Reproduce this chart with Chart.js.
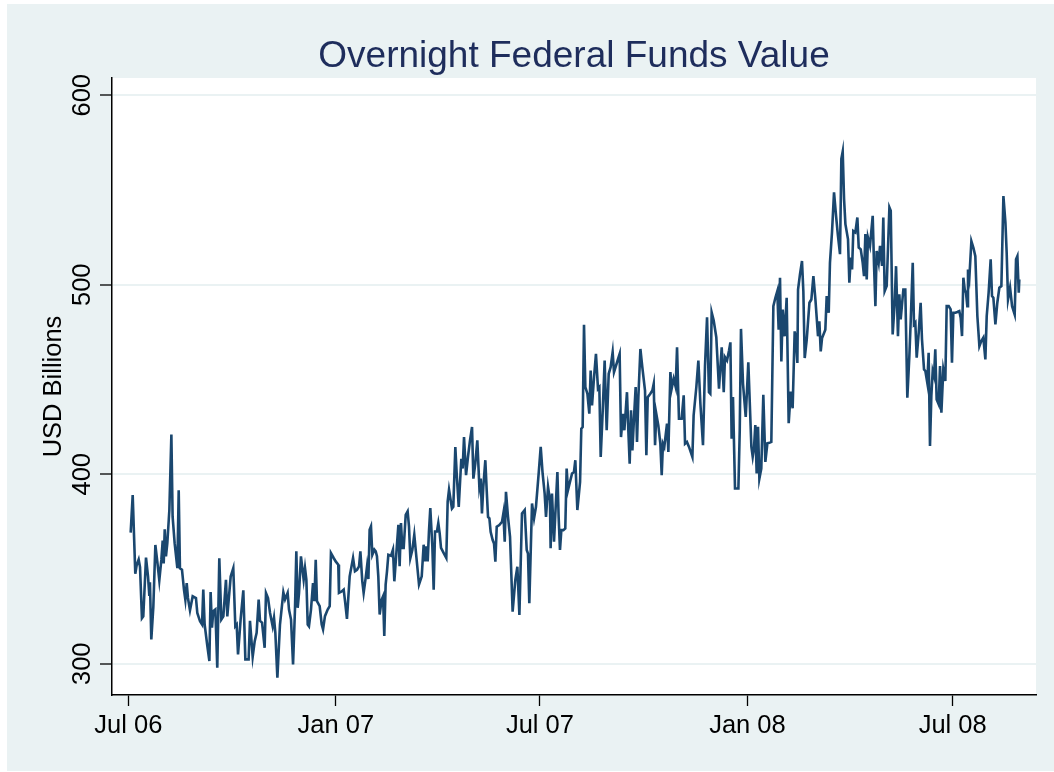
<!DOCTYPE html>
<html>
<head>
<meta charset="utf-8">
<title>Overnight Federal Funds Value</title>
<script src="https://cdn.jsdelivr.net/npm/chart.js@4/dist/chart.umd.min.js"></script>
<style>
  html, body { margin: 0; padding: 0; background: #ffffff; }
  canvas { display: block; }
</style>
</head>
<body>
<canvas id="c" width="1054" height="772"></canvas>
<script>
// ---- Data: [days since 1 Jul 2006, value in USD billions] ----
const chartTitle = 'Overnight Federal Funds Value';
const yAxisTitle = 'USD Billions';

const obsJul06toNov06 = [
  [2.1,369.2],[3.9,389],[6.2,347.5],[7.4,352],[9.2,355],[10.4,351],[12.1,324],[13.3,325],[15.7,356],[17.5,346],
  [18.6,336.4],[19.2,343],[20.4,312.8],[22.2,330],[24.0,362.7],[25.7,354],[27.5,344],[29.3,354.8],[30.5,365],[31.4,352.9],
  [32.3,371],[33.4,356.6],[34.6,363.6],[36.4,381],[38.2,421],[39.3,377.6],[41.1,363.6],[43.5,350.4],[44.7,391.6],[45.8,350.4],
  [47.6,349.6],[49.4,339],[50.6,333.8],[51.8,342.6],[52.9,334.7],[54.7,328.2],[57.1,335.6],[60.0,334.7],[61.2,326.8],[63.6,322.4],
  [65.4,320.7],[66.5,339.1],[67.7,320.7],[70.1,309.3],[71.9,301.4],[73.0,337.8],[74.2,319],[75.4,327.7],[77.2,328.6],[78.9,297.9],
  [80.7,355.7],[82.5,323.3],[84.3,325],[86.6,344.3],[87.8,325],[90.8,346],[93.1,350.4],[94.9,319.8],[96.1,320.7],[97.3,304.9],
  [99.6,323.3],[102.0,338.7],[103.8,302.3],[106.7,302.3],[107.9,322.6],[110.3,303.7],[112.1,311.9],[113.8,316.3],[115.6,333.8],[116.8,322.6],
  [118.6,321.7],[120.9,308.4],[122.1,337.3],[123.9,334.7],[125.7,326.8],[128.0,319.8],[129.2,324.2],[130.4,316.3],[132.2,292.6],[134.5,320.7],
  [137.5,337.7]
];
const obsNov06toApr07 = [
  [139.0,333.9],[141.3,337.4],[142.5,328.6],[144.3,323.3],[146.1,299.6],[147.8,328.6],[149.0,359.3],[150.2,329.5],[151.4,337.4],[153.1,356.7],
  [155.5,344.4],[156.7,350.5],[157.9,344.4],[159.1,320.7],[160.2,319.8],[162.0,328.6],[163.8,342.6],[165.0,333],[166.2,354.9],[167.3,333],
  [169.7,330.4],[171.5,320.7],[172.7,318.1],[174.4,325.1],[176.8,328.6],[178.6,330.4],[179.7,358.4],[182.1,355.8],[183.9,354],[186.2,352.3],
  [186.8,337.4],[189.2,338.1],[191.0,339.1],[192.2,333],[193.9,323.7],[196.3,346.1],[199.3,355.8],[201.0,348.8],[202.8,349.6],[204.6,351.4],
  [205.8,359.3],[207.5,343.5],[208.7,337.4],[210.5,345.3],[211.7,351.4],[212.9,344.7],[214.0,370.7],[215.2,372.5],[216.4,357.5],[218.2,360.2],
  [219.4,359.3],[220.5,356.7],[221.7,346.1],[222.9,326],[224.7,333.9],[225.9,335.6],[227.0,314.6],[228.2,341.8],[229.4,348.8],[230.6,357.5],
  [233.0,357],[234.7,360.2],[235.9,343.5],[237.7,358.4],[239.5,373.3],[240.6,351.4],[241.8,374.2],[243.0,361.1],[244.2,361.1],[246.0,378.6],
  [247.7,380.4],[248.9,372.5],[250.1,355.8],[251.9,360.2],[253.6,368.1],[255.4,356.7],[257.8,341.8],[260.2,346.1],[261.9,362.8],[263.1,354],
  [264.3,362],[265.5,354],[266.6,369.8],[267.8,382.1],[269.6,362],[270.8,339.1],[272.0,369.8],[273.7,369.8],[274.9,374.2],[276.1,368.9],
  [277.3,361.1],[279.7,358.4],[282.0,355.8],[283.2,385.6],[284.4,391.8]
];
const obsApr07toSep07 = [
  [287.0,381.9],[288.2,382.8],[290.0,414.4],[291.2,400.4],[293.0,382.8],[295.3,408.2],[296.5,403],[297.7,419.6],[299.5,399.5],[301.2,409.1],
  [303.0,417.9],[304.8,424.9],[306.0,397.7],[307.7,405.6],[309.5,417.9],[311.3,393.3],[312.5,397.7],[313.6,379.3],[314.8,393.3],[316.6,407.4],
  [317.8,391.6],[319.0,377.5],[320.2,376.7],[321.3,369.6],[323.1,365.3],[324.3,363.5],[325.5,353.9],[326.7,372.3],[329.0,373.2],[331.4,374.9],
  [332.6,379.3],[333.8,364.4],[334.9,390.7],[336.7,377.5],[338.5,367],[340.8,327.5],[343.2,344.2],[345.0,351.2],[346.8,325.8],[349.1,379.3],
  [351.5,381.1],[353.3,360],[354.4,358.2],[355.6,331.9],[358.0,384.6],[359.8,376.7],[361.5,382.8],[363.9,400.4],[365.7,414.4],[367.4,400.4],
  [369.2,389.8],[370.4,377.5],[372.2,393.3],[373.9,386.3],[374.5,360.9],[375.7,389.8],[377.5,364.4],[378.7,379.3],[380.5,401.2],[381.6,377.5],
  [382.8,360],[384.0,370.5],[385.8,370.5],[387.5,371.4],[388.7,403],[389.9,391.6],[391.7,396],[393.5,400.4],[395.2,401.2],[396.4,407.4],
  [398.2,381.1],[400.6,396],[401.7,424],[402.9,424.9],[404.1,478.9],[405.3,446],[407.1,442.5],[408.8,432],[410.0,454.7],[411.2,436.3],
  [413.0,451.2],[414.7,463.5],[416.5,445.1],[417.7,446],[418.9,409.1],[420.7,433.7],[422.4,460],[424.2,423.2],[426.0,453],[427.7,456.5],
  [429.5,464.4],[430.7,453.9]
];
const obsSep07toJan08 = [
  [433.4,459.1],[435.7,463.5],[436.9,419.6],[438.7,431.9],[439.9,423.2],[442.2,443.3],[443.4,423.2],[444.6,405.6],[445.8,433.7],[447.0,412.6],
  [448.7,432.8],[449.9,446],[451.1,417],[452.3,440.7],[454.1,466.1],[455.8,456.5],[458.2,444.2],[459.4,410],[460.6,440.7],[462.9,442.5],
  [464.7,444.2],[465.9,447.7],[467.1,415.3],[468.2,431.9],[470.0,425.8],[471.8,416.1],[473.0,399.5],[474.1,416.1],[475.3,414.4],[477.7,426.7],
  [478.9,411.8],[480.7,453.9],[481.8,445.1],[483.6,450.4],[485.4,446],[486.6,467],[488.3,429.3],[490.7,429.3],[492.5,441.6],[493.7,416.1],
  [495.4,417],[497.2,414.4],[500.2,409.1],[501.3,431],[503.7,446],[505.5,460],[507.3,437.2],[509.6,415.3],[511.4,457.4],[513.2,482.8],
  [514.9,443.3],[516.1,442.5],[517.3,485.4],[519.1,481.1],[521.4,472.3],[523.8,445.1],[526.2,467],[528.0,443.3],[529.1,461.8],[530.9,460],
  [532.7,465.3],[533.9,469.6],[535.0,418.8],[536.2,440.7],[538.0,392.5],[541.0,392.5],[542.2,423.2],[543.3,476.7],[545.1,447.7],[547.5,430.2],
  [549.8,459.1]
];
const obsJan08toMay08 = [
  [552.5,414.5],[553.7,409.2],[554.8,413.6],[556.0,426],[557.2,400.4],[558.4,425.1],[559.6,397.7],[561.3,403],[563.1,441.9],[564.9,406.5],
  [566.7,416.3],[568.4,416.6],[570.2,417.1],[572.0,488.7],[573.8,493.1],[575.5,496.6],[576.7,476.3],[577.9,503.7],[579.1,459.5],[580.3,486.9],
  [582.0,472.8],[583.8,493.1],[585.6,426.9],[587.4,443.6],[589.1,434.8],[590.9,475.4],[592.1,471],[593.3,458.7],[593.9,497.5],[595.6,505.5],
  [597.4,512.5],[598.6,496.6],[599.8,461.3],[601.6,471],[604.0,490.5],[605.7,492.2],[607.5,504.6],[609.3,492.2],[611.6,472.8],[612.8,480.7],
  [614.0,464.8],[615.2,471.9],[618.1,476.3],[619.3,494],[621.1,485.2],[622.2,511.7],[624.0,527.6],[625.8,548.8],[627.6,536.4],[629.3,525.8],
  [631.1,516.1],[632.3,566.4],[633.5,570.3],[634.7,545.2],[635.9,532],[638.2,524],[639.4,501.1],[640.6,514.3],[641.8,508.1],[642.9,528.4],
  [644.7,527.6],[646.5,535.5],[647.7,519.6],[649.5,518.7],[651.2,511.7],[652.4,504.6],[653.6,526.7],[654.8,502.8],[655.9,524.9],[657.7,520.5],
  [660.1,536.4],[661.3,509.9],[662.5,488.7],[663.6,517.8],[665.4,511.7],[666.6,520.5],[668.4,509.9],[669.5,535.5],[670.7,496.6],[672.5,499.3],
  [674.9,540.8],[676.1,539]
];
const obsMay08toAug08 = [
  [677.8,473.8],[679.6,490.5],[680.8,509.8],[682.5,472.9],[683.7,494.9],[684.9,481.7],[686.1,489.6],[687.3,497.5],[689.0,497.5],[690.8,440.4],
  [692.6,462.4],[693.8,480.8],[695.6,511.6],[696.7,479.1],[697.9,480],[699.1,461.5],[700.9,474.7],[702.6,490.5],[703.8,471.2],[705.6,455.3],
  [706.8,454.5],[708.5,448.3],[709.7,464.1],[710.9,414.9],[712.1,441.3],[713.3,454.5],[714.5,451.8],[715.6,465.9],[716.8,439.5],[718.6,436.9],
  [719.8,457.1],[721.0,432.5],[722.7,455.3],[724.5,449.2],[725.7,488.7],[727.5,488.7],[729.2,487],[730.4,458.9],[731.6,485.2],[733.4,485.2],
  [735.2,485.6],[736.9,486.1],[738.1,482.6],[739.3,472.9],[740.5,503.7],[741.7,497.5],[742.8,495.8],[744.0,488.7],[744.6,508.1],[745.8,503.7],
  [747.6,523],[749.4,519.5],[751.1,515.1],[752.9,483.5],[754.7,467.6],[756.4,470.3],[758.2,472.1],[760.0,460.6],[761.2,483.5],[762.9,495.8],
  [764.7,513.4],[765.9,494],[767.1,493.1],[768.9,479.1],[770.6,490.5],[772.4,498.4],[774.2,499.3],[776.0,546.8],[777.8,532.7],[778.9,516.9],
  [780.1,492.3],[781.9,498.4],[783.7,488.7],[786.0,484.3],[787.2,513.4],[788.4,515.1],[789.6,495.8],[790.1,502.8]
];

const xTickDays   = [0, 184, 365, 549, 731];
const xTickLabels = ['Jul 06', 'Jan 07', 'Jul 07', 'Jan 08', 'Jul 08'];
const yTickValues = [300, 400, 500, 600];

// ---- Build series ----
const series = [].concat(obsJul06toNov06, obsNov06toApr07, obsApr07toSep07,
                         obsSep07toJan08, obsJan08toMay08, obsMay08toAug08)
  .map(([d, v]) => ({ x: d, y: v }));

const FONT = '"Liberation Sans", Arial, Helvetica, sans-serif';
const BG = '#EAF2F3';
const LINE = '#1A476F';
const TITLE_COLOR = '#1E2D5C';

const decorPlugin = {
  id: 'decor',
  beforeDraw(chart) {
    const { ctx, chartArea: a } = chart;
    ctx.save();
    ctx.fillStyle = '#ffffff';
    ctx.fillRect(0, 0, chart.width, chart.height);
    ctx.fillStyle = BG;
    ctx.fillRect(7, 4, chart.width - 7, chart.height - 5);
    ctx.fillStyle = '#ffffff';
    ctx.fillRect(a.left, a.top, a.right - a.left, a.bottom - a.top);
    ctx.restore();
  },
  afterDraw(chart) {
    const { ctx, chartArea: a } = chart;
    const ys = chart.scales.y;
    ctx.save();
    // title
    ctx.fillStyle = TITLE_COLOR;
    ctx.font = '37px ' + FONT;
    ctx.textAlign = 'center';
    ctx.textBaseline = 'alphabetic';
    ctx.fillText(chartTitle, (a.left + a.right) / 2, 67);
    // y tick labels (rotated)
    ctx.fillStyle = '#000000';
    ctx.font = '25.5px ' + FONT;
    yTickValues.forEach(v => {
      const py = ys.getPixelForValue(v);
      ctx.save();
      ctx.translate(a.left - 22, py);
      ctx.rotate(-Math.PI / 2);
      ctx.fillText(String(v), 0, 0);
      ctx.restore();
    });
    // y axis title
    ctx.save();
    ctx.translate(61, (a.top + a.bottom) / 2);
    ctx.rotate(-Math.PI / 2);
    ctx.fillText(yAxisTitle, 0, 0);
    ctx.restore();
    ctx.restore();
  }
};

new Chart(document.getElementById('c'), {
  type: 'line',
  data: {
    datasets: [{
      data: series,
      borderColor: LINE,
      borderWidth: 2.6,
      pointRadius: 0,
      pointHoverRadius: 0,
      tension: 0,
      fill: false
    }]
  },
  options: {
    responsive: false,
    animation: false,
    events: [],
    layout: { padding: { left: 7, top: 78, right: 18, bottom: 0 } },
    plugins: { legend: { display: false }, title: { display: false }, tooltip: { enabled: false } },
    scales: {
      x: {
        type: 'linear',
        min: -14.45,
        max: 804.9,
        afterBuildTicks: s => { s.ticks = xTickDays.map(v => ({ value: v })); },
        afterFit: s => { s.height = 77; },
        ticks: {
          autoSkip: false,
          maxRotation: 0,
          minRotation: 0,
          padding: 5,
          color: '#000000',
          font: { family: FONT, size: 25.5 },
          callback: v => xTickLabels[xTickDays.indexOf(v)]
        },
        grid: {
          drawOnChartArea: false,
          drawTicks: true,
          tickLength: 11,
          tickColor: '#000000',
          tickWidth: 1.3
        },
        border: { display: true, color: '#000000', width: 1.5 }
      },
      y: {
        type: 'linear',
        min: 283.5,
        max: 609.1,
        afterBuildTicks: s => { s.ticks = yTickValues.map(v => ({ value: v })); },
        afterFit: s => { s.width = 105; },
        ticks: { color: 'rgba(0,0,0,0)', font: { family: FONT, size: 25.5 } },
        grid: {
          color: BG,
          lineWidth: 2,
          drawTicks: true,
          tickLength: 12,
          tickColor: '#000000',
          tickWidth: 1.3
        },
        border: { display: true, color: '#000000', width: 1.5 }
      }
    }
  },
  plugins: [decorPlugin]
});
</script>
</body>
</html>
